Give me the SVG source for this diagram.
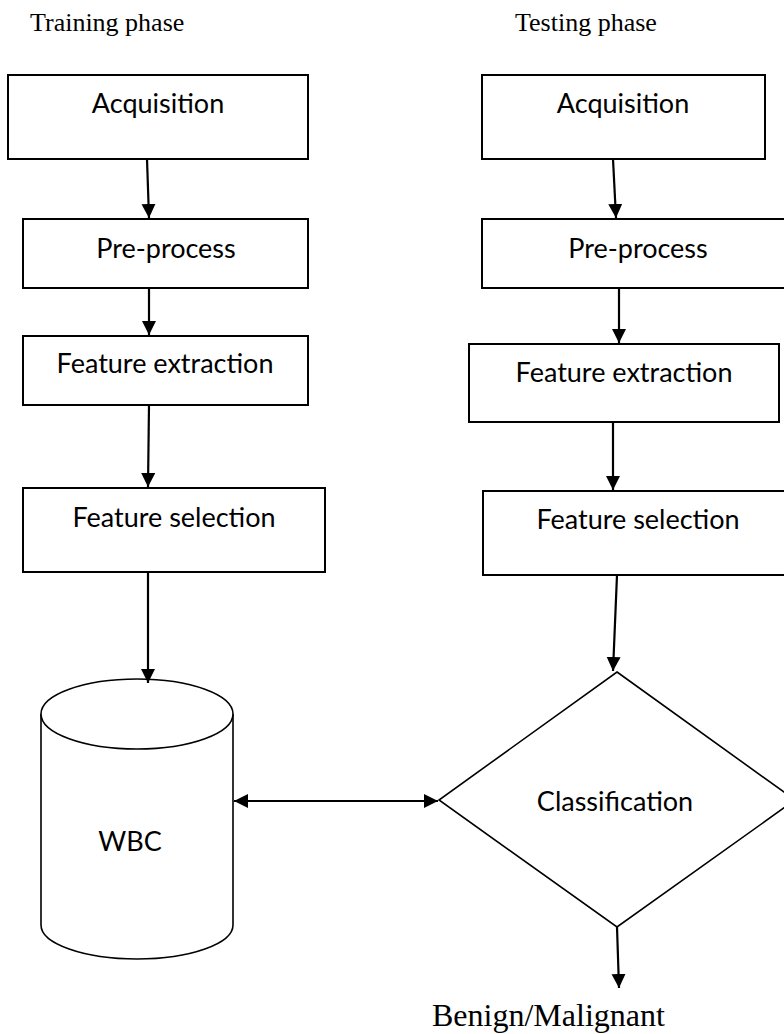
<svg xmlns="http://www.w3.org/2000/svg" width="784" height="1034" viewBox="0 0 784 1034">
  <style>
    .box { fill: #ffffff; stroke: #000000; stroke-width: 2; }
    .shape { fill: #ffffff; stroke: #000000; stroke-width: 1.6; }
    .lbl { font-family: Lato, "Liberation Sans", sans-serif; font-size: 27px; fill: #000000; text-anchor: middle; }
    .head { font-family: "Liberation Serif", serif; font-size: 26px; fill: #000000; }
    .out { font-family: "Liberation Serif", serif; font-size: 32px; fill: #000000; }
    .edge { stroke: #000000; stroke-width: 2.2; fill: none; }
  </style>
  <defs>
    <marker id="arrow" markerUnits="userSpaceOnUse" markerWidth="15" markerHeight="15" refX="14" refY="7" orient="auto-start-reverse">
      <path d="M0,0 L14,7 L0,14 z" fill="#000000"/>
    </marker>
  </defs>

  <rect width="784" height="1034" fill="#ffffff"/>

  <!-- column headings -->
  <text class="head" x="30" y="31">Training phase</text>
  <text class="head" x="515" y="31">Testing phase</text>

  <!-- training column -->
  <g id="train-acquisition">
    <rect class="box" x="8" y="75" width="300" height="84"/>
    <text class="lbl" x="158" y="113">Acquisition</text>
  </g>
  <g id="train-preprocess">
    <rect class="box" x="23" y="219" width="285" height="69"/>
    <text class="lbl" x="166" y="258">Pre-process</text>
  </g>
  <g id="train-extraction">
    <rect class="box" x="23" y="336" width="285" height="69"/>
    <text class="lbl" x="165" y="373">Feature extraction</text>
  </g>
  <g id="train-selection">
    <rect class="box" x="23" y="488" width="302" height="84"/>
    <text class="lbl" x="174" y="527">Feature selection</text>
  </g>
  <g id="wbc">
    <path class="shape" d="M41,714 L41,925 A96,34 0 0 0 233,925 L233,714"/>
    <ellipse class="shape" cx="137" cy="714" rx="96" ry="35"/>
    <text class="lbl" x="130" y="851">WBC</text>
  </g>

  <!-- testing column -->
  <g id="test-acquisition">
    <rect class="box" x="482" y="75" width="283" height="84"/>
    <text class="lbl" x="623" y="113">Acquisition</text>
  </g>
  <g id="test-preprocess">
    <rect class="box" x="482" y="219" width="313" height="69"/>
    <text class="lbl" x="638" y="258">Pre-process</text>
  </g>
  <g id="test-extraction">
    <rect class="box" x="469" y="344" width="310" height="78"/>
    <text class="lbl" x="624" y="382">Feature extraction</text>
  </g>
  <g id="test-selection">
    <rect class="box" x="483" y="491" width="311" height="84"/>
    <text class="lbl" x="638" y="529">Feature selection</text>
  </g>
  <g id="classification">
    <polygon class="shape" points="617,672 795,800 617,927 439,800"/>
    <text class="lbl" x="615" y="811">Classification</text>
  </g>
  <g id="result">
    <text class="out" x="432" y="1026">Benign/Malignant</text>
  </g>

  <!-- connectors -->
  <g id="connectors">
    <line class="edge" x1="147" y1="159" x2="149" y2="218" marker-end="url(#arrow)"/>
    <line class="edge" x1="149" y1="288" x2="149" y2="335" marker-end="url(#arrow)"/>
    <line class="edge" x1="149" y1="405" x2="148" y2="487" marker-end="url(#arrow)"/>
    <line class="edge" x1="148" y1="572" x2="148" y2="683" marker-end="url(#arrow)"/>
    <line class="edge" x1="234" y1="801" x2="438" y2="801" marker-start="url(#arrow)" marker-end="url(#arrow)"/>

    <line class="edge" x1="613" y1="159" x2="616" y2="218" marker-end="url(#arrow)"/>
    <line class="edge" x1="619" y1="288" x2="619" y2="343" marker-end="url(#arrow)"/>
    <line class="edge" x1="613" y1="422" x2="613" y2="490" marker-end="url(#arrow)"/>
    <line class="edge" x1="617" y1="575" x2="613" y2="671" marker-end="url(#arrow)"/>
    <line class="edge" x1="617" y1="927" x2="619" y2="988" marker-end="url(#arrow)"/>
  </g>
</svg>
